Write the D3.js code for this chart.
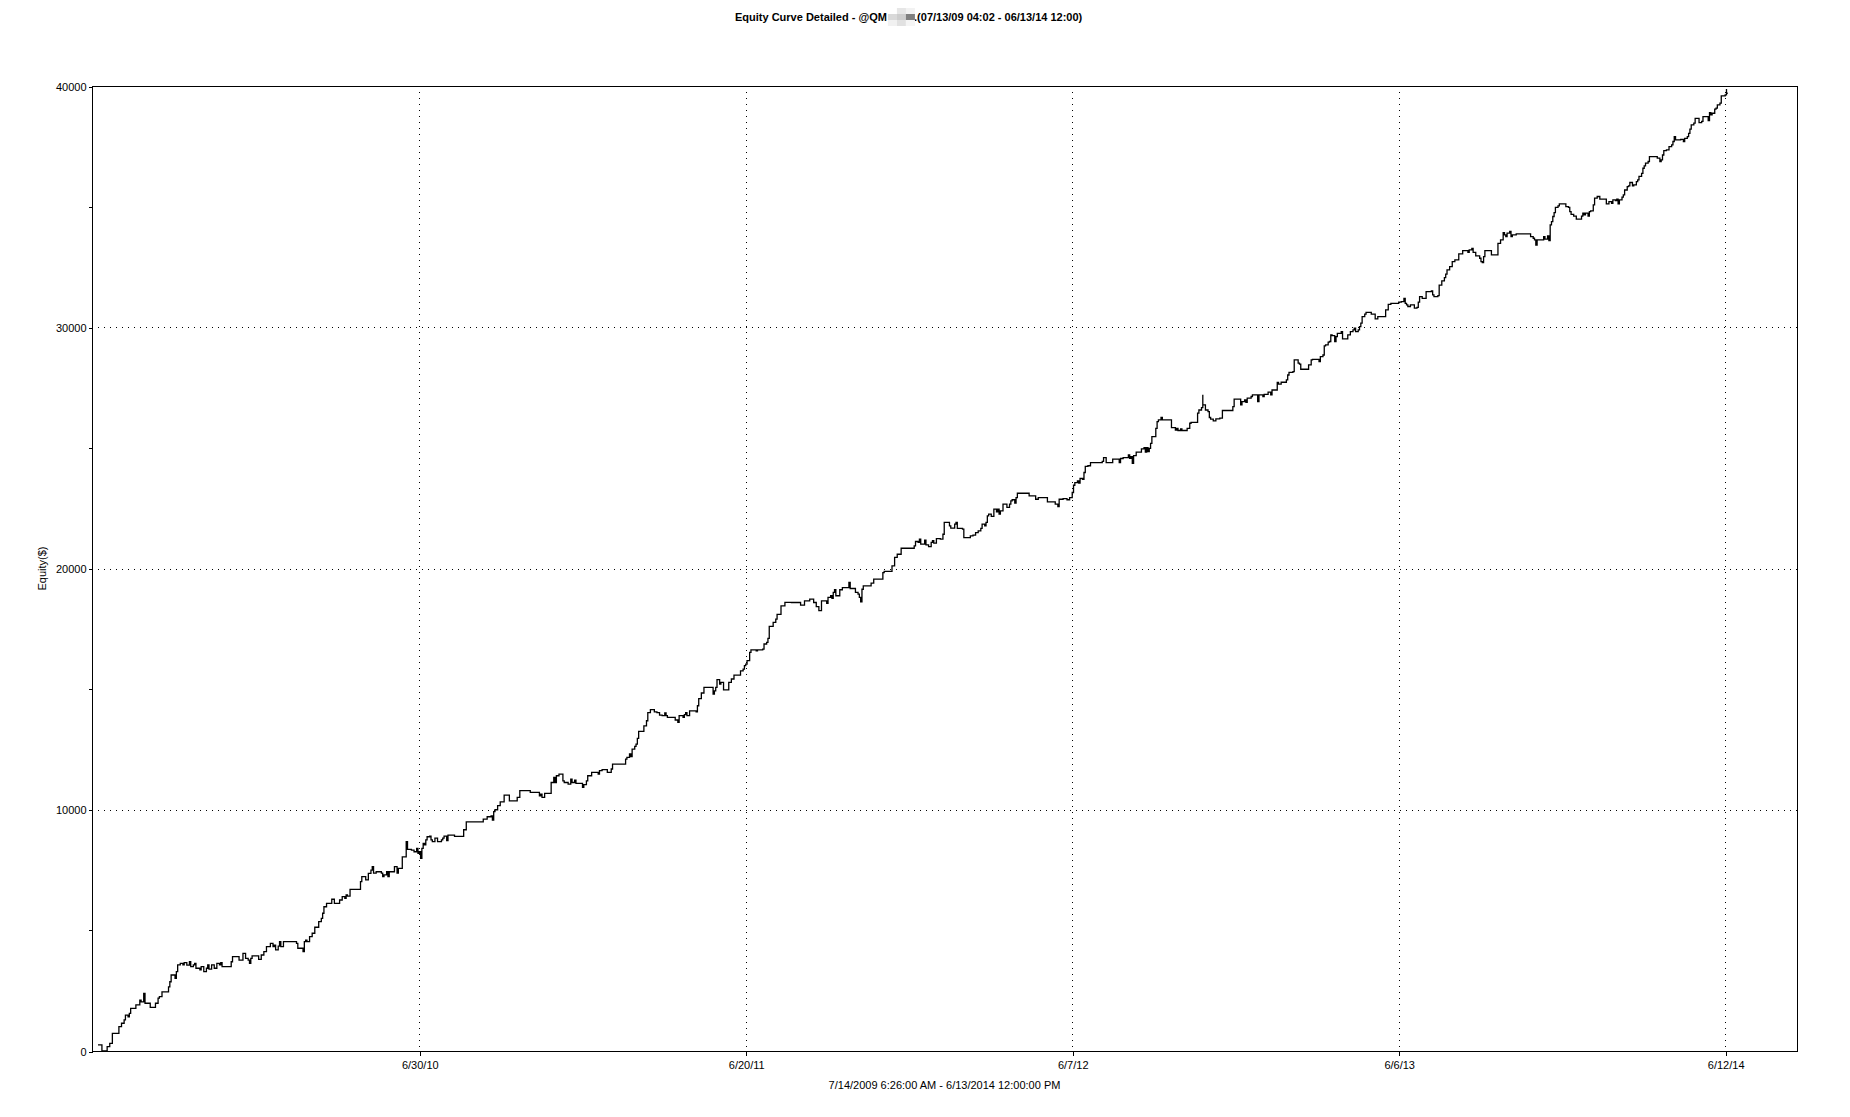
<!DOCTYPE html>
<html>
<head>
<meta charset="utf-8">
<script src="https://cdn.jsdelivr.net/npm/d3@7"></script>
<style>
  html, body { margin: 0; padding: 0; background: #fff; }
  svg { display: block; }
  text { font-family: "Liberation Sans", Arial, sans-serif; fill: #000; }
</style>
</head>
<body>
<svg id="chart" width="1850" height="1117"></svg>
<script>
// ---------------- DATA ----------------
const titleLeft = "Equity Curve Detailed - @QM ";
const titleRight = "a.(07/13/09 04:02 - 06/13/14 12:00)";
const xAxisTitle = "7/14/2009 6:26:00 AM - 6/13/2014 12:00:00 PM";
const yAxisTitle = "Equity($)";

const yTicks = [0, 10000, 20000, 30000, 40000];
const yMinorTicks = [5000, 15000, 25000, 35000];
const yDomain = [0, 40000];

// x axis is bar-indexed (not linear in calendar time)
const xDomain = [-4.6, 1301];
const xTickBars = [246, 496, 746, 996, 1246];
const xTickLabels = ["6/30/10", "6/20/11", "6/7/12", "6/6/13", "6/12/14"];

// equity curve: [bar index, equity $]
const equityCurve = [
[0,250],[3,0],[7,180],[9,320],[11,730],[16,1010],[18,1150],[20,1290],[21,1490],[23,1420],[24,1560],[25,1770],[29,1910],[32,2110],[33,2040],[35,2390],[36,1980],[40,1810],[44,1980],[46,2190],[47,2250],[49,2450],[54,2660],[55,2870],[56,3150],[59,3010],[60,3290],[61,3570],[63,3630],[65,3570],[66,3660],[68,3560],[70,3700],[71,3500],[73,3570],[74,3630],[75,3430],[78,3360],[79,3500],[81,3290],[83,3430],[84,3570],[85,3390],[87,3570],[89,3430],[91,3630],[93,3570],[94,3660],[95,3500],[102,3700],[103,3910],[108,3770],[111,4050],[113,3840],[115,3770],[116,3630],[117,3840],[118,3940],[123,3800],[125,3980],[127,4120],[129,4330],[132,4460],[134,4330],[135,4390],[136,4190],[138,4350],[139,4530],[140,4330],[142,4530],[152,4460],[153,4260],[157,4120],[158,4530],[159,4600],[160,4530],[162,4740],[164,4880],[166,5130],[169,5360],[171,5500],[172,5710],[173,5980],[175,6120],[179,6290],[181,6120],[185,6260],[187,6400],[189,6330],[190,6470],[191,6420],[193,6700],[201,7020],[202,7230],[205,7090],[207,7360],[209,7500],[210,7640],[211,7370],[213,7430],[217,7370],[218,7230],[219,7300],[221,7430],[222,7230],[223,7430],[227,7640],[229,7370],[230,7570],[233,8050],[236,8680],[237,8360],[240,8330],[242,8260],[244,8400],[245,8190],[246,8260],[247,7990],[248,8400],[249,8610],[250,8540],[251,8750],[252,8880],[254,8910],[255,8750],[256,8680],[258,8820],[260,8680],[263,8750],[264,8820],[265,8910],[267,8720],[268,8950],
[273,8900],[280,9170],[282,9500],[295,9610],[298,9710],[301,9750],[302,9570],[303,9920],[304,10000],[306,10170],[308,10330],[311,10610],[315,10370],[321,10510],[323,10790],[331,10720],[338,10580],[339,10650],[340,10510],[342,10680],[347,11130],[349,11340],[350,11130],[351,11410],[353,11480],[356,11200],[357,11130],[360,11060],[362,11270],[363,11130],[365,11230],[366,11090],[371,10930],[372,11040],[374,11200],[375,11410],[378,11550],[383,11480],[384,11620],[386,11660],[390,11550],[393,11690],[394,11890],[404,12100],[405,12170],[407,12310],[408,12200],[409,12510],[411,12630],[412,12720],[413,12960],[414,13250],[418,13480],[420,13690],[421,14030],[423,14150],[426,14060],[428,14030],[430,13920],[432,13900],[434,14010],[435,13900],[436,13830],[442,13720],[444,13620],[445,13900],[448,13830],[449,13940],[450,14030],[451,13900],[453,14100],[458,14060],[459,14310],[460,14610],[462,14840],[464,15070],[471,14790],[472,14930],[473,15070],[474,15390],[476,15210],[477,15280],[479,14970],[483,15280],[485,15420],[487,15580],[492,15760],[494,15830],[495,15970],[496,16040],[497,16180],[499,16520],[500,16630],[504,16590],[505,16630],[509,16660],[510,16870],[512,16940],[513,17100],[514,17600],[517,17770],[519,17900],[520,18100],[523,18450],[526,18600],
[531,18590],[538,18480],[541,18660],[545,18730],[548,18590],[550,18420],[552,18250],[554,18660],[558,18560],[559,18800],[561,18870],[562,18760],[563,19010],[564,19120],[565,18870],[568,19120],[570,19210],[575,19420],[576,19170],[580,19010],[582,18940],[583,18800],[584,18620],[585,19140],[586,19280],[592,19390],[594,19560],[601,19830],[602,19880],[608,20110],[610,20460],[612,20590],[615,20840],[625,20940],[626,21120],[628,21080],[629,21220],[630,21010],[633,21170],[634,20980],[636,20910],[638,21080],[639,21150],[640,21050],[642,21240],[645,21220],[647,21420],[648,21910],[652,21770],[653,21670],[656,21840],[657,21910],[658,21660],[662,21630],[663,21280],[668,21350],[670,21380],[672,21490],[674,21560],[676,21660],[677,21840],[679,21770],[680,21910],[681,22180],[682,22250],[684,22160],[686,22460],[688,22350],[689,22460],[690,22250],[691,22390],[693,22670],[696,22530],[698,22670],[699,22800],[700,22850],[702,22710],[703,22940],[704,23120],[713,23010],[718,22870],[720,22940],[727,22760],[733,22670],[735,22570],[736,22870],[739,22900],[742,22850],[744,22940],[746,23150],[747,23450],[748,23560],[750,23630],[751,23540],[752,23730],[754,23700],[755,23980],[756,24230],[758,24260],[760,24390],[769,24440],[770,24600],[772,24390],[777,24530],[782,24390],
[783,24560],[785,24600],[789,24710],[790,24570],[791,24640],[792,24360],[793,24680],[795,24820],[799,24960],[801,25010],[802,24820],[803,25010],[804,24850],[805,24980],[806,25190],[807,25470],[810,25810],[811,26090],[812,26160],[814,26260],[815,26160],[822,25840],[825,25740],[826,25810],[827,25720],[829,25790],[830,25720],[834,25810],[836,26020],[837,26060],[842,26440],[843,26570],[845,26670],[846,27200],[846,26780],[848,26570],[850,26500],[851,26260],[852,26190],[854,26120],[856,26200],[859,26230],[861,26550],[869,26710],[870,27020],[875,26780],[876,26920],[878,26990],[879,26890],[880,27060],[883,27130],[884,27200],[888,26920],[889,27200],[892,27130],[893,27220],[896,27310],[898,27200],[899,27400],[903,27710],[904,27640],[906,27720],[910,27820],[911,28020],[912,28130],[915,28160],[916,28650],[919,28510],[920,28470],[921,28260],[927,28440],[929,28650],[930,28670],[935,28580],[936,28780],[938,28850],[939,29230],[940,29270],[942,29380],[943,29410],[944,29680],[945,29650],[947,29410],[948,29610],[949,29750],[952,29820],[953,29520],[957,29680],[959,29820],[961,29890],[962,29960],[963,29820],[965,29890],[966,30030],[967,30170],[968,30440],[970,30540],[971,30620],[975,30540],[978,30350],[980,30440],[986,30720],[988,30950],[990,30990],[996,31040],[998,31060],[1000,31200],[1001,30990],[1002,30930],[1003,30860],[1005,30930],[1008,30790],[1010,30820],[1011,31040],[1012,31270],[1014,31200],[1017,31480],[1021,31510],[1022,31340],[1023,31270],[1026,31310],[1027,31750],[1029,31920],[1031,32060],[1032,32200],[1033,32380],[1035,32510],
[1037,32720],[1039,32790],[1042,33040],[1045,33180],[1049,33100],[1050,33210],[1052,33270],[1053,33100],[1055,32960],[1058,32860],[1059,32720],[1060,32680],[1061,32930],[1062,33180],[1067,33000],[1072,33480],[1074,33620],[1076,33920],[1077,33830],[1078,33760],[1079,33900],[1081,33970],[1082,33760],[1083,33830],[1086,33870],[1097,33760],[1099,33690],[1100,33620],[1101,33410],[1102,33620],[1107,33760],[1108,33650],[1110,33790],[1111,33590],[1112,34240],[1113,34380],[1114,34590],[1115,34750],[1116,34970],[1118,35030],[1119,35110],[1124,35000],[1126,34970],[1127,34790],[1128,34680],[1130,34610],[1132,34480],[1136,34610],[1137,34730],[1138,34660],[1139,34730],[1141,34610],[1142,34790],[1143,34820],[1145,35070],[1146,35350],[1148,35420],[1150,35310],[1155,35110],[1157,35210],[1159,35140],[1160,35280],[1162,35250],[1163,35310],[1164,35110],[1165,35280],[1167,35390],[1168,35490],[1169,35690],[1171,35830],[1172,35860],[1173,36000],[1175,35860],[1176,35900],[1178,36040],[1179,36110],[1180,36250],[1182,36380],[1183,36590],[1184,36690],[1185,36800],[1187,36870],[1188,37070],[1194,37010],[1196,36870],[1197,36940],[1198,37140],[1199,37320],[1201,37350],[1203,37490],[1205,37560],[1206,37700],[1207,37900],[1208,37770],[1212,37790],[1214,37700],[1215,37830],[1217,37900],[1218,38040],[1219,38210],[1220,38390],[1222,38460],[1223,38660],[1226,38480],[1228,38530],[1229,38730],[1233,38570],[1234,38900],[1235,38800],[1236,38870],[1238,39040],[1239,39080],[1240,39220],[1242,39290],[1243,39590],[1246,39630],[1247,39880],[1247,39700],[1248,39700]
];

// ---------------- LAYOUT ----------------
const plot = { left: 92, right: 1797, top: 86, bottom: 1051 };
const svg = d3.select("#chart");

const x = d3.scaleLinear().domain(xDomain).range([plot.left, plot.right]);
const y = d3.scaleLinear().domain(yDomain).range([plot.bottom, plot.top]);

// gridlines (dotted)
const grid = svg.append("g").attr("shape-rendering", "crispEdges");
grid.selectAll("line.hg").data(yTicks.filter(d => d > yDomain[0] && d < yDomain[1]))
  .enter().append("line")
  .attr("x1", plot.left).attr("x2", plot.right)
  .attr("y1", d => Math.round(y(d)) + 0.5).attr("y2", d => Math.round(y(d)) + 0.5)
  .attr("stroke", "#000").attr("stroke-width", 1).attr("stroke-dasharray", "1,5");
grid.selectAll("line.vg").data(xTickBars)
  .enter().append("line")
  .attr("x1", d => Math.round(x(d)) + 0.5).attr("x2", d => Math.round(x(d)) + 0.5)
  .attr("y1", plot.top).attr("y2", plot.bottom)
  .attr("stroke", "#000").attr("stroke-width", 1).attr("stroke-dasharray", "1,5");

// equity line
const line = d3.line()
  .x(d => x(d[0]))
  .y(d => y(d[1]))
  .curve(d3.curveStepAfter);
svg.append("path")
  .datum(equityCurve)
  .attr("d", line)
  .attr("fill", "none")
  .attr("stroke", "#000")
  .attr("stroke-width", 1.3)
  .attr("stroke-linejoin", "miter");

// frame
svg.append("rect")
  .attr("x", plot.left + 0.5).attr("y", plot.top + 0.5)
  .attr("width", plot.right - plot.left).attr("height", plot.bottom - plot.top)
  .attr("fill", "none").attr("stroke", "#000").attr("stroke-width", 1)
  .attr("shape-rendering", "crispEdges");

// y axis
const yAxis = d3.axisLeft(y).tickValues(yTicks).tickFormat(d3.format("d")).tickSize(4).tickPadding(2);
const gy = svg.append("g").attr("transform", `translate(${plot.left + 0.5},0.5)`).call(yAxis);
gy.select(".domain").remove();
gy.selectAll("line").attr("stroke", "#000").attr("shape-rendering", "crispEdges");
gy.selectAll("text").attr("font-size", 11).style("font-family", '"Liberation Sans", Arial, sans-serif');
svg.append("g").selectAll("line").data(yMinorTicks).enter().append("line")
  .attr("x1", plot.left - 3).attr("x2", plot.left)
  .attr("y1", d => Math.round(y(d)) + 0.5).attr("y2", d => Math.round(y(d)) + 0.5)
  .attr("stroke", "#000").attr("shape-rendering", "crispEdges");

// x axis
const xAxis = d3.axisBottom(x).tickValues(xTickBars)
  .tickFormat((d, i) => xTickLabels[i]).tickSize(4).tickPadding(6);
const gx = svg.append("g").attr("transform", `translate(0.5,${plot.bottom + 0.5})`).call(xAxis);
gx.select(".domain").remove();
gx.selectAll("line").attr("stroke", "#000").attr("shape-rendering", "crispEdges");
gx.selectAll("text").attr("font-size", 11).style("font-family", '"Liberation Sans", Arial, sans-serif');

// axis titles
svg.append("text")
  .attr("x", (plot.left + plot.right) / 2).attr("y", 1089)
  .attr("text-anchor", "middle").attr("font-size", 11)
  .text(xAxisTitle);
svg.append("text")
  .attr("transform", `translate(46,${(plot.top + plot.bottom) / 2}) rotate(-90)`)
  .attr("text-anchor", "middle").attr("font-size", 11)
  .text(yAxisTitle);

// title (with pixelated redaction patch)
const t1 = svg.append("text")
  .attr("x", 735).attr("y", 21)
  .attr("font-size", 11).attr("font-weight", "bold")
  .text(titleLeft);
const w1 = t1.node().getComputedTextLength();
const bx = 735 + w1 + 1;
const t2 = svg.append("text")
  .attr("x", bx + 20).attr("y", 21)
  .attr("font-size", 11).attr("font-weight", "bold")
  .text(titleRight);
const patch = [
  ["#ffffff", "#e6e6e6", "#f2f2f2"],
  ["#d9d9d9", "#cdcdcd", "#7f7f7f"],
  ["#f1f1f1", "#e1e1e1", "#f5f5f5"]
];
const cell = 9;
patch.forEach((row, r) => row.forEach((c, k) => {
  svg.append("rect").attr("x", bx + k * cell).attr("y", 8 + r * 6)
    .attr("width", cell).attr("height", 6).attr("fill", c);
}));
</script>
</body>
</html>
